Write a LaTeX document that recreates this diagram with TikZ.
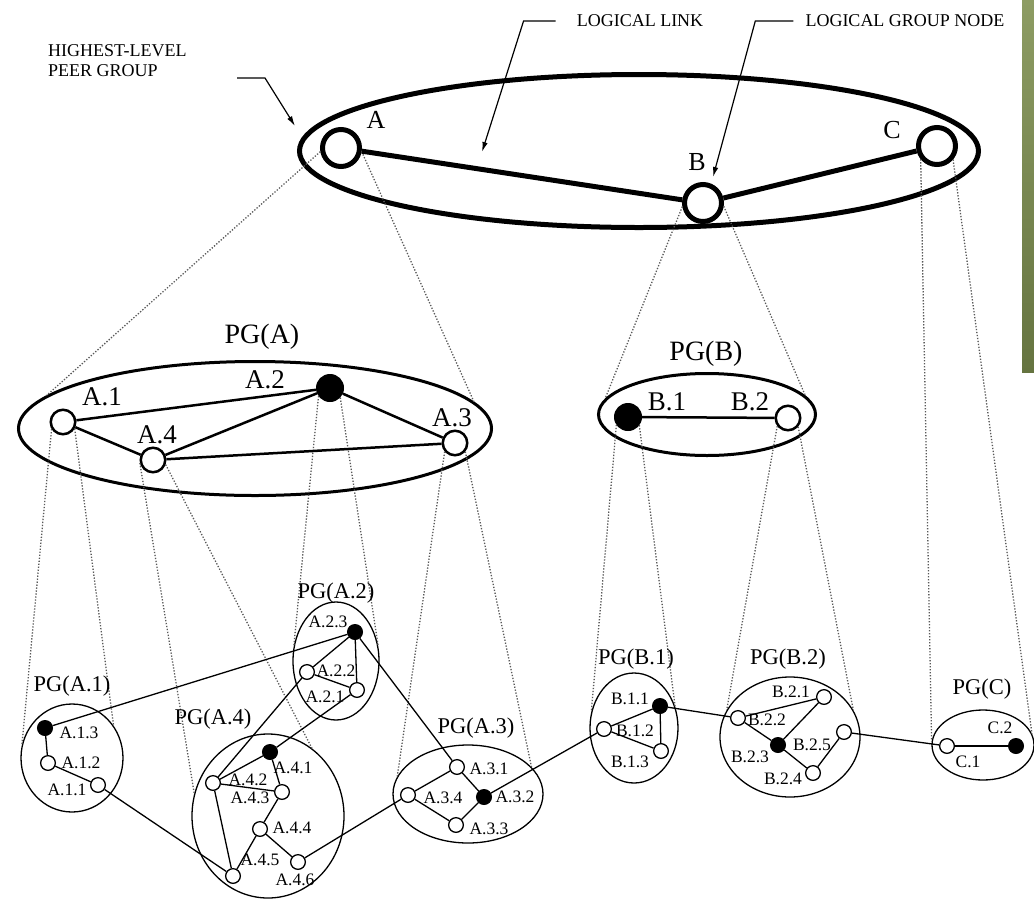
\documentclass[tikz,border=0pt]{standalone}
\usepackage{fontspec}
\setmainfont{Liberation Serif}
\usetikzlibrary{shapes.geometric,arrows.meta,calc}
\definecolor{bartop}{HTML}{8D9C63}
\definecolor{barbot}{HTML}{657440}
\definecolor{dotgray}{gray}{0.35}
\begin{document}
\begin{tikzpicture}[x=1pt,y=-1pt,
  toplbl/.style={font=\fontsize{18}{20}\selectfont, inner sep=0pt},
  toplet/.style={font=\fontsize{26}{28}\selectfont, inner sep=0pt},
  midpg/.style={font=\fontsize{28}{30}\selectfont, inner sep=0pt},
  midlbl/.style={font=\fontsize{27}{29}\selectfont, inner sep=0pt},
  subpg/.style={font=\fontsize{22.5}{24}\selectfont, inner sep=0pt},
  sublbl/.style={font=\fontsize{17.5}{19}\selectfont, inner sep=0pt},
  bigell/.style={ellipse, draw, line width=5pt, inner sep=0pt},
  midell/.style={ellipse, draw, line width=3pt, inner sep=0pt},
  subell/.style={ellipse, draw, line width=1.3pt, inner sep=0pt},
  topnode/.style={circle, draw, fill=white, line width=5pt, minimum size=37pt, inner sep=0pt},
  midopen/.style={circle, draw, fill=white, line width=2.5pt, minimum size=24.5pt, inner sep=0pt},
  midfill/.style={circle, draw, fill=black, line width=1pt, minimum size=27pt, inner sep=0pt},
  subopen/.style={circle, draw, fill=white, line width=1.3pt, minimum size=14.7pt, inner sep=0pt},
  subfill/.style={circle, draw, fill=black, line width=1pt, minimum size=15pt, inner sep=0pt},
  toplink/.style={line width=5pt},
  midlink/.style={line width=2.5pt},
  sublink/.style={line width=1.3pt},
  proj/.style={dotgray, line width=1.3pt, dash pattern=on 1.3pt off 1.7pt},
  thinarr/.style={line width=1.2pt, -{Latex[length=10pt,width=5.5pt]}}
]
\useasboundingbox (0,0) rectangle (1034,903);
\shade[top color=bartop, bottom color=barbot] (1022,0) rectangle (1034,372);

% ---------------- ellipses ----------------
\node[bigell, minimum width=679pt, minimum height=153pt] (TOP) at (639,151) {};
\node[midell, minimum width=473pt, minimum height=134pt] (PGA) at (255,428.5) {};
\node[midell, minimum width=217pt, minimum height=82pt] (PGB) at (707,414.5) {};
\node[subell, minimum width=102pt, minimum height=108pt] (PGA1) at (72,758) {};
\node[subell, minimum width=86pt, minimum height=118pt] (PGA2) at (336,661) {};
\node[subell, minimum width=152pt, minimum height=164pt] (PGA4) at (268,816) {};
\node[subell, minimum width=150pt, minimum height=98pt] (PGA3) at (468,794) {};
\node[subell, minimum width=88pt, minimum height=110pt] (PGB1) at (634,728) {};
\node[subell, minimum width=140pt, minimum height=120pt] (PGB2) at (790,737) {};
\node[subell, minimum width=102pt, minimum height=70pt] (PGC) at (983,745) {};

% ---------------- top level nodes ----------------
\node[topnode] (A) at (341,148) {};
\node[topnode] (B) at (703,203) {};
\node[topnode] (C) at (937,146) {};

% ---------------- PG(A), PG(B) nodes ----------------
\node[midopen] (A1) at (63,422) {};
\node[midfill] (A2) at (330,388) {};
\node[midopen] (A3) at (455,443) {};
\node[midopen] (A4) at (153,460) {};
\node[midfill] (B1) at (628,417) {};
\node[midopen] (B2) at (788,418) {};

% ---------------- lowest level nodes ----------------
\node[subfill] (A13) at (45,728) {};
\node[subopen] (A12) at (48,763) {};
\node[subopen] (A11) at (98,785) {};
\node[subfill] (A23) at (355,632) {};
\node[subopen] (A22) at (307,672) {};
\node[subopen] (A21) at (357,690) {};
\node[subfill] (A41) at (270,752) {};
\node[subopen] (A42) at (213,783) {};
\node[subopen] (A43) at (282,792) {};
\node[subopen] (A44) at (260,829) {};
\node[subopen] (A45) at (233,876) {};
\node[subopen] (A46) at (298,862) {};
\node[subopen] (A31) at (457,767) {};
\node[subfill] (A32) at (484,797) {};
\node[subopen] (A33) at (456,825) {};
\node[subopen] (A34) at (408,795) {};
\node[subfill] (B11) at (660,706) {};
\node[subopen] (B12) at (604,729) {};
\node[subopen] (B13) at (661,751) {};
\node[subopen] (B21) at (824,697) {};
\node[subopen] (B22) at (738,718) {};
\node[subfill] (B23) at (778,745) {};
\node[subopen] (B24) at (813,773) {};
\node[subopen] (B25) at (844,732) {};
\node[subopen] (C1) at (947,746) {};
\node[subfill] (C2) at (1016,746) {};

% ---------------- projection (dotted) lines ----------------
\draw[proj] (A.190) -- (PGA.171.7);
\draw[proj] (A.350) -- (PGA.7);
\draw[proj] (B.190) -- (PGB.171);
\draw[proj] (B.351) -- (PGB.11.7);
\draw[proj] (C.219) -- (PGC.176.6);
\draw[proj] (C.320) -- (PGC.13.8);
\draw[proj] (A1.212) -- (PGA1.165);
\draw[proj] (A1.330) -- (PGA1.38);
\draw[proj] (A4.193) -- (PGA4.163);
\draw[proj] (A4.340) -- (PGA4.57);
\draw[proj] (A2.215) -- (PGA2.160);
\draw[proj] (A2.317) -- (PGA2.21);
\draw[proj] (A3.220) -- (PGA3.166);
\draw[proj] (A3.320) -- (PGA3.23);
\draw[proj] (B1.214) -- (PGB1.159);
\draw[proj] (B1.324) -- (PGB1.28);
\draw[proj] (B2.217) -- (PGB2.157);
\draw[proj] (B2.319) -- (PGB2.23);

% ---------------- links ----------------
\draw[toplink] (A) -- (B);
\draw[toplink] (B) -- (C);
\draw[midlink] (A1) -- (A2);
\draw[midlink] (A1) -- (A4);
\draw[midlink] (A4) -- (A2);
\draw[midlink] (A4) -- (A3);
\draw[midlink] (A2) -- (A3);
\draw[midlink] (B1) -- (B2);

\foreach \u/\v in {A13/A12, A12/A11, A23/A22, A23/A21, A22/A21,
  A41/A42, A41/A43, A42/A43, A42/A45, A43/A44, A44/A45, A44/A46,
  A31/A34, A31/A32, A34/A33, A33/A32, B11/B12, B11/B13, B12/B13,
  B22/B21, B22/B23, B23/B21, B23/B24, B24/B25, C1/C2,
  A13/A23, A11/A45, A22/A42, A21/A41, A23/A31, A46/A34, A32/B12, B11/B22, B25/C1}
  \draw[sublink] (\u) -- (\v);

% ---------------- labels ----------------
\node[toplbl, align=left, anchor=west] (HL) at (48,61) {HIGHEST-LEVEL\\PEER GROUP};
\node[toplbl, inner xsep=21pt] (LL) at (640,21) {LOGICAL LINK};
\node[toplbl, inner xsep=12pt] (LG) at (905,21) {LOGICAL GROUP NODE};
\coordinate (HLs) at (237,78);
\coordinate (HLt) at (295,126);
\coordinate (LLt) at (482,152);
\coordinate (LGt) at (713,177);
\draw[thinarr] (HLs) -- ++(28,0) -- (HLt);
\draw[thinarr] (LL.west) -- ++(-32,0) -- (LLt);
\draw[thinarr] (LG.west) -- ++(-38,0) -- (LGt);

\node[toplet] (lA) at (376,120) {A};
\node[toplet] (lB) at (697,162) {B};
\node[toplet] (lC) at (892,130) {C};

\node[midpg] (tPGA) at (262,337) {PG(A)};
\node[midpg] (tPGB) at (706,354) {PG(B)};
\node[midlbl] (lA1) at (102,397) {A.1};
\node[midlbl] (lA2) at (265,380) {A.2};
\node[midlbl] (lA3) at (452,418) {A.3};
\node[midlbl] (lA4) at (157,435) {A.4};
\node[midlbl] (lB1) at (667,402) {B.1};
\node[midlbl] (lB2) at (750,402) {B.2};

\node[subpg] (tPGA1) at (72,686) {PG(A.1)};
\node[subpg] (tPGA2) at (336,593) {PG(A.2)};
\node[subpg] (tPGA4) at (213,719) {PG(A.4)};
\node[subpg] (tPGA3) at (476,728) {PG(A.3)};
\node[subpg] (tPGB1) at (636,659) {PG(B.1)};
\node[subpg] (tPGB2) at (788,659) {PG(B.2)};
\node[subpg] (tPGC) at (982,689) {PG(C)};

\node[sublbl] (lA13) at (79,733) {A.1.3};
\node[sublbl] (lA12) at (81,763) {A.1.2};
\node[sublbl] (lA11) at (67,790) {A.1.1};
\node[sublbl] (lA23) at (328,622) {A.2.3};
\node[sublbl] (lA22) at (336,671) {A.2.2};
\node[sublbl] (lA21) at (325,697) {A.2.1};
\node[sublbl] (lA41) at (293,768) {A.4.1};
\node[sublbl] (lA42) at (248,780) {A.4.2};
\node[sublbl] (lA43) at (250,798) {A.4.3};
\node[sublbl] (lA44) at (292,828) {A.4.4};
\node[sublbl] (lA45) at (260,860) {A.4.5};
\node[sublbl] (lA46) at (295,880) {A.4.6};
\node[sublbl] (lA31) at (489,769) {A.3.1};
\node[sublbl] (lA32) at (515,797) {A.3.2};
\node[sublbl] (lA33) at (489,829) {A.3.3};
\node[sublbl] (lA34) at (443,798) {A.3.4};
\node[sublbl] (lB11) at (630,699) {B.1.1};
\node[sublbl] (lB12) at (635,731) {B.1.2};
\node[sublbl] (lB13) at (630,762) {B.1.3};
\node[sublbl] (lB21) at (791,692) {B.2.1};
\node[sublbl] (lB22) at (767,720) {B.2.2};
\node[sublbl] (lB23) at (750,757) {B.2.3};
\node[sublbl] (lB24) at (783,779) {B.2.4};
\node[sublbl] (lB25) at (812,745) {B.2.5};
\node[sublbl] (lC1) at (968,762) {C.1};
\node[sublbl] (lC2) at (1000,728) {C.2};
\end{tikzpicture}
\end{document}
